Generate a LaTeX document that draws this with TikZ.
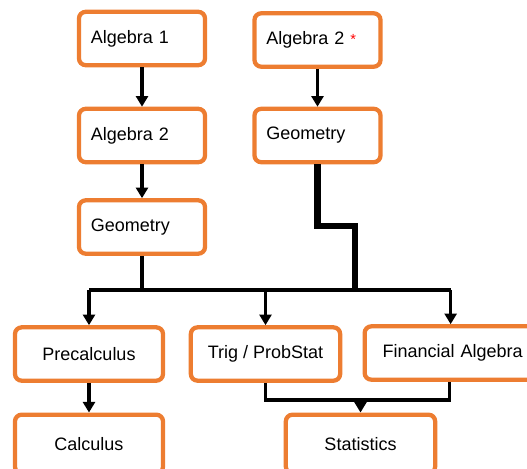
\documentclass[tikz,border=0pt]{standalone}
\usepackage{fontspec}
\setmainfont{Liberation Sans}
\usetikzlibrary{arrows.meta}
\definecolor{boxorange}{HTML}{ED7D31}

\begin{document}
\begin{tikzpicture}[
  x=0.75pt,
  y=-0.75pt,
  >={Triangle[width=9pt,length=8pt]},
  every node/.style={font=\fontsize{13.5}{15}\selectfont},
  box/.style={draw=boxorange,line width=3.2pt,rounded corners=5pt,fill=white,
    minimum height=40pt,inner xsep=8.9pt},
  lbox/.style={box,text width=76.7pt,align=left},
  edge/.style={->,line width=2.4pt},
  link/.style={line width=2.4pt},
  thicklink/.style={line width=5pt}
]
\useasboundingbox (0,0) rectangle (527,468);
\clip (0,0) rectangle (527,468);

% Left column
\node[lbox] (alg1) at (142,38.5) {Algebra 1};
\node[lbox] (alg2) at (142,135.5) {Algebra 2};
\node[lbox] (geoleft) at (142,227) {Geometry};

% Right column
\node[lbox] (alg2star) at (317.5,40) {Algebra 2 {\color{red}\fontsize{11}{11}\selectfont *}};
\node[lbox] (georight) at (317.5,135.5) {Geometry};

\draw[edge] (alg1) -- (alg2);
\draw[edge] (alg2) -- (geoleft);
\draw[edge] (alg2star) -- (georight);

% Upper level courses
\node[box,minimum width=111pt] (precalc) at (89,354) {Precalculus};
\node[box,minimum width=112pt] (trig) at (265.5,354) {Trig / ProbStat};
\node[box,anchor=west,inner xsep=13.5pt,text width=120pt,align=left] (finalg) at (362.5,353) {Financial Algebra};

% Bus to upper level
\coordinate (bus) at (0,290);
\coordinate (jog) at (355,226);
\draw[link] (geoleft.south) -- (geoleft.south |- bus);
\draw[thicklink] (georight.south) |- (jog) -- (jog |- bus);
\draw[link] (precalc.north |- bus) -- ([xshift=-9pt]finalg.north |- bus);
\draw[edge] (precalc.north |- bus) -- (precalc.north);
\draw[edge] (trig.north |- bus) -- (trig.north);
\draw[edge] ([xshift=-9pt]finalg.north |- bus) -- ([xshift=-9pt]finalg.north);

% Last level
\node[box,minimum width=111pt,minimum height=44pt] (calc) at (89,444) {Calculus};
\node[box,minimum width=112pt,minimum height=44pt] (stats) at (360.5,444) {Statistics};

\coordinate (merge) at (0,400);
\draw[edge] (precalc) -- (calc);
\draw[link] (trig.south) |- ([xshift=-10pt]finalg.south |- merge) -- ([xshift=-10pt]finalg.south);
\draw[edge] (stats.north |- merge) -- (stats.north);
\end{tikzpicture}
\end{document}
